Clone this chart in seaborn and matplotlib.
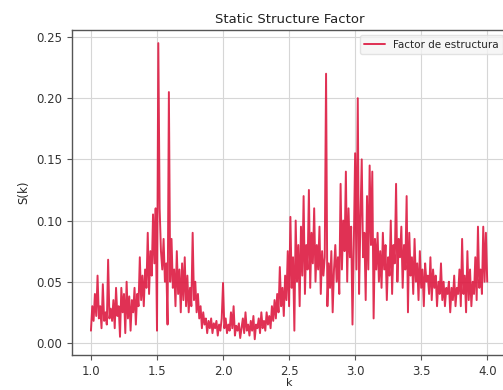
import numpy as np
import pandas as pd
import matplotlib
matplotlib.use("Agg")
import matplotlib.pyplot as plt
import seaborn as sns

k_start = 1.0
k_step = 0.01

s_values = [
    0.010, 0.030, 0.018, 0.040, 0.022, 0.055, 0.020, 0.030, 0.012, 0.048,
    0.018, 0.025, 0.015, 0.068, 0.020, 0.028, 0.018, 0.035, 0.012, 0.045,
    0.022, 0.030, 0.005, 0.045, 0.025, 0.040, 0.008, 0.050, 0.020, 0.038,
    0.010, 0.035, 0.025, 0.045, 0.015, 0.040, 0.030, 0.070, 0.035, 0.055,
    0.030, 0.060, 0.045, 0.090, 0.040, 0.075, 0.055, 0.105, 0.065, 0.110,
    0.010, 0.245, 0.110, 0.075, 0.060, 0.085, 0.050, 0.065, 0.015, 0.205,
    0.050, 0.085, 0.045, 0.060, 0.030, 0.075, 0.040, 0.060, 0.025, 0.065,
    0.035, 0.070, 0.030, 0.055, 0.025, 0.045, 0.030, 0.090, 0.035, 0.050,
    0.025, 0.040, 0.020, 0.030, 0.012, 0.025, 0.015, 0.020, 0.008, 0.018,
    0.012, 0.020, 0.008, 0.016, 0.012, 0.018, 0.006, 0.015, 0.010, 0.020,
    0.049, 0.012, 0.020, 0.008, 0.015, 0.010, 0.025, 0.012, 0.030, 0.006,
    0.014, 0.010, 0.016, 0.004, 0.012, 0.020, 0.008, 0.025, 0.010, 0.015,
    0.006, 0.018, 0.010, 0.022, 0.003, 0.015, 0.012, 0.020, 0.008, 0.025,
    0.012, 0.018, 0.010, 0.025, 0.015, 0.022, 0.012, 0.030, 0.018, 0.035,
    0.020, 0.040, 0.025, 0.062, 0.030, 0.045, 0.022, 0.055, 0.035, 0.075,
    0.030, 0.103, 0.045, 0.070, 0.010, 0.100, 0.050, 0.080, 0.030, 0.095,
    0.055, 0.120, 0.040, 0.080, 0.060, 0.125, 0.045, 0.090, 0.065, 0.110,
    0.050, 0.080, 0.060, 0.095, 0.040, 0.075, 0.055, 0.070, 0.220, 0.030,
    0.065, 0.045, 0.075, 0.025, 0.060, 0.080, 0.050, 0.070, 0.040, 0.130,
    0.060, 0.100, 0.075, 0.140, 0.050, 0.110, 0.070, 0.095, 0.015, 0.080,
    0.155, 0.060, 0.200, 0.040, 0.100, 0.150, 0.070, 0.090, 0.035, 0.120,
    0.060, 0.145, 0.080, 0.140, 0.020, 0.085, 0.060, 0.090, 0.050, 0.075,
    0.045, 0.090, 0.060, 0.080, 0.035, 0.070, 0.055, 0.100, 0.040, 0.080,
    0.065, 0.130, 0.050, 0.085, 0.070, 0.095, 0.045, 0.080, 0.060, 0.120,
    0.025, 0.090, 0.055, 0.070, 0.040, 0.085, 0.050, 0.065, 0.035, 0.075,
    0.045, 0.060, 0.030, 0.065, 0.050, 0.055, 0.040, 0.070, 0.035, 0.060,
    0.045, 0.055, 0.030, 0.050, 0.040, 0.065, 0.035, 0.050, 0.030, 0.045,
    0.040, 0.050, 0.025, 0.045, 0.035, 0.055, 0.030, 0.045, 0.040, 0.060,
    0.030, 0.085, 0.040, 0.055, 0.025, 0.075, 0.035, 0.060, 0.030, 0.050,
    0.040, 0.070, 0.035, 0.095, 0.045, 0.060, 0.040, 0.095, 0.050, 0.090,
    0.050,
]

k_values = [round(k_start + i * k_step, 2) for i in range(len(s_values))]

x_ticks = [1.0, 1.5, 2.0, 2.5, 3.0, 3.5, 4.0]
y_ticks = [0.00, 0.05, 0.10, 0.15, 0.20, 0.25]

title_text = "Static Structure Factor"
x_label = "k"
y_label = "S(k)"
legend_label = "Factor de estructura"

df = pd.DataFrame({"k": k_values, "S": s_values})

sns.set_style("whitegrid", {
    "grid.color": "#d6d6d6",
    "axes.edgecolor": "#555555",
    "xtick.bottom": True,
    "ytick.left": True,
})
plt.rcParams["font.family"] = ["DejaVu Sans"]

fig = plt.figure(figsize=(5.03, 3.90), dpi=100)
ax = fig.add_axes([0.143, 0.09, 0.865, 0.833])

sns.lineplot(data=df, x="k", y="S", ax=ax, color="crimson", linewidth=1.4,
             alpha=0.88, label=legend_label)

ax.set_xticks(x_ticks)
ax.set_yticks(y_ticks)
ax.set_xlim(0.856, 4.15)
ax.set_ylim(-0.0098, 0.2557)
ax.tick_params(axis="both", labelsize=8.5, length=3.5, width=0.8,
               color="#555555", labelcolor="#333333")
ax.set_title(title_text, fontsize=9.5, color="#222222", pad=5)
ax.set_xlabel(x_label, fontsize=8, labelpad=0)
ax.set_ylabel(y_label, fontsize=8.5, labelpad=4)
for sp in ax.spines.values():
    sp.set_linewidth(1.0)
leg = ax.legend(loc="upper right", fontsize=7.5, frameon=True,
                bbox_to_anchor=(0.995, 0.99), borderaxespad=0.2)
leg.get_frame().set_facecolor("#f4f4f4")
leg.get_frame().set_edgecolor("#dddddd")

fig.savefig("out.png", dpi=100)
